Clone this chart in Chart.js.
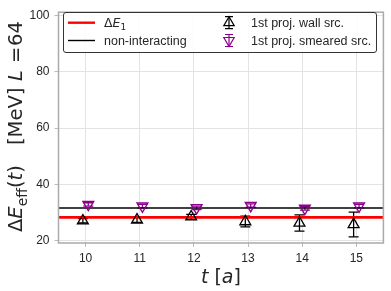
<!DOCTYPE html>
<html>
<head>
<meta charset="utf-8">
<script src="https://cdn.jsdelivr.net/npm/chart.js@4.4.0/dist/chart.umd.min.js"></script>
<style>
html,body{margin:0;padding:0;background:#fff;}
#wrap{width:391px;height:291px;position:relative;}
</style>
</head>
<body>
<div id="wrap"><canvas id="c" width="391" height="291"></canvas></div>
<script>
// ---- data ----
const tValues = [10, 11, 12, 13, 14, 15];
const wallValues = [27.1, 27.4, 28.5, 26.8, 26.3, 25.8];
const wallErrors = [0.8, 0.9, 0.9, 1.9, 2.9, 4.4];
const smearValues = [32.9, 32.3, 31.7, 32.5, 31.5, 32.3];
const smearErrors = [0.6, 0.6, 0.6, 0.6, 0.6, 0.6];
const deltaE1 = 28.3;
const nonInteracting = 31.6;
const xTicks = [10, 11, 12, 13, 14, 15];
const yTicks = [20, 40, 60, 80, 100];
const xRange = [9.5, 15.5];
const yRange = [19.2, 101.2];
const xOffset = 0.05;

const TEXT_FONT = "'Liberation Sans', Arial, sans-serif";
const MATH_FONT = "'DejaVu Sans', sans-serif";

const wallPts = tValues.map((t, i) => ({x: t - xOffset, y: wallValues[i], e: wallErrors[i]}));
const smearPts = tValues.map((t, i) => ({x: t + xOffset, y: smearValues[i], e: smearErrors[i]}));

const errorBarPlugin = {
  id: 'errorBars',
  beforeDatasetsDraw(chart) {
    const ctx = chart.ctx;
    const xs = chart.scales.x, ys = chart.scales.y;
    chart.data.datasets.forEach(ds => {
      if (!ds.errorBars) return;
      ctx.save();
      ctx.strokeStyle = ds.borderColor;
      ctx.lineWidth = 1.3;
      ds.data.forEach(p => {
        const px = xs.getPixelForValue(p.x);
        const y1 = ys.getPixelForValue(p.y - p.e);
        const y2 = ys.getPixelForValue(p.y + p.e);
        ctx.beginPath();
        ctx.moveTo(px, y1); ctx.lineTo(px, y2);
        ctx.moveTo(px - 5, y1); ctx.lineTo(px + 5, y1);
        ctx.moveTo(px - 5, y2); ctx.lineTo(px + 5, y2);
        ctx.stroke();
      });
      ctx.restore();
    });
  }
};

function drawRuns(ctx, runs, x, y) {
  let cx = x;
  runs.forEach(r => {
    ctx.font = r[1];
    ctx.fillText(r[0], cx, y + (r[2] || 0));
    cx += ctx.measureText(r[0]).width;
  });
  return cx;
}

const framePlugin = {
  id: 'frame',
  afterDraw(chart) {
    const ctx = chart.ctx;
    const a = chart.chartArea;
    ctx.save();
    ctx.strokeStyle = '#aaaaaa';
    ctx.lineWidth = 1.5;
    ctx.strokeRect(a.left, a.top, a.right - a.left, a.bottom - a.top);

    // legend box
    const lx = 63.5, ly = 12.5, lw = 313, lh = 40;
    ctx.fillStyle = 'rgba(255,255,255,0.85)';
    ctx.strokeStyle = '#333333';
    ctx.lineWidth = 1;
    ctx.beginPath();
    if (ctx.roundRect) ctx.roundRect(lx, ly, lw, lh, 2.5); else ctx.rect(lx, ly, lw, lh);
    ctx.fill(); ctx.stroke();

    const r1 = 22.7, r2 = 40.5;
    ctx.strokeStyle = '#ff0000'; ctx.lineWidth = 2.4;
    ctx.beginPath(); ctx.moveTo(68, r1); ctx.lineTo(95, r1); ctx.stroke();
    ctx.strokeStyle = '#000000'; ctx.lineWidth = 1.4;
    ctx.beginPath(); ctx.moveTo(68, r2); ctx.lineTo(95, r2); ctx.stroke();

    ctx.fillStyle = '#262626';
    ctx.textBaseline = 'alphabetic';
    ctx.textAlign = 'left';
    const b1 = r1 + 4.5, b2 = r2 + 4.5;
    drawRuns(ctx, [['Δ', '12.5px ' + MATH_FONT], ['E', 'italic 12.5px ' + MATH_FONT], ['1', '9px ' + MATH_FONT, 2.5]], 104, b1);
    ctx.font = '12.5px ' + TEXT_FONT;
    ctx.fillText('non-interacting', 104, b2);
    ctx.fillText('1st proj. wall src.', 251, b1);
    ctx.fillText('1st proj. smeared src.', 251, b2);

    drawMarker(ctx, 229, r1, '#000000', false);
    drawMarker(ctx, 229, r2, '#8b008b', true);

    // x title: t [a]
    ctx.fillStyle = '#262626';
    const xr = [['t', 'italic 19px ' + MATH_FONT], [' [', '19px ' + MATH_FONT], ['a', 'italic 19px ' + MATH_FONT], [']', '19px ' + MATH_FONT]];
    let total = 0;
    xr.forEach(p => { ctx.font = p[1]; total += ctx.measureText(p[0]).width; });
    drawRuns(ctx, xr, (a.left + a.right) / 2 - total / 2, 282.5);

    // y title rotated
    ctx.save();
    ctx.translate(22, 232);
    ctx.rotate(-Math.PI / 2);
    const M = '19.5px ' + MATH_FONT, MI = 'italic 19.5px ' + MATH_FONT;
    drawRuns(ctx, [['Δ', M], ['E', MI], ['eff', '14px ' + MATH_FONT, 4.5], ['(', M], ['t', MI], [')', M]], 0, 0);
    drawRuns(ctx, [['[MeV]', M]], 87, 0);
    drawRuns(ctx, [['L', MI]], 151, 0);
    drawRuns(ctx, [['=', M]], 169, 0);
    drawRuns(ctx, [['64', M]], 186, 0);
    ctx.restore();
    ctx.restore();
  }
};

function drawMarker(ctx, x, y, color, down) {
  ctx.save();
  ctx.strokeStyle = color; ctx.lineWidth = 1.2;
  ctx.beginPath();
  ctx.moveTo(x, y - 6); ctx.lineTo(x, y + 6);
  ctx.moveTo(x - 4, y - 6); ctx.lineTo(x + 4, y - 6);
  ctx.moveTo(x - 4, y + 6); ctx.lineTo(x + 4, y + 6);
  ctx.stroke();
  const r = 6;
  const s = down ? -1 : 1;
  ctx.beginPath();
  ctx.moveTo(x, y - s * r);
  ctx.lineTo(x - r * 0.866, y + s * r * 0.5);
  ctx.lineTo(x + r * 0.866, y + s * r * 0.5);
  ctx.closePath();
  ctx.stroke();
  ctx.restore();
}

new Chart(document.getElementById('c'), {
  type: 'scatter',
  data: {
    datasets: [
      {
        label: 'ΔE1', type: 'line',
        data: [{x: xRange[0], y: deltaE1}, {x: xRange[1], y: deltaE1}],
        borderColor: '#ff0000', borderWidth: 2.6, pointRadius: 0, order: 3
      },
      {
        label: 'non-interacting', type: 'line',
        data: [{x: xRange[0], y: nonInteracting}, {x: xRange[1], y: nonInteracting}],
        borderColor: '#000000', borderWidth: 1.5, pointRadius: 0, order: 4
      },
      {
        label: '1st proj. wall src.', data: wallPts, errorBars: true,
        borderColor: '#000000', backgroundColor: 'rgba(0,0,0,0)',
        pointStyle: 'triangle', pointRadius: 6.3, borderWidth: 1.3, order: 1
      },
      {
        label: '1st proj. smeared src.', data: smearPts, errorBars: true,
        borderColor: '#8b008b', backgroundColor: 'rgba(0,0,0,0)',
        pointStyle: 'triangle', rotation: 180, pointRadius: 6.3, borderWidth: 1.3, order: 2
      }
    ]
  },
  options: {
    responsive: false,
    animation: false,
    events: [],
    layout: {padding: {left: 0, right: 6, top: 5, bottom: 0}},
    plugins: {legend: {display: false}, tooltip: {enabled: false}},
    scales: {
      x: {
        type: 'linear', min: xRange[0], max: xRange[1],
        afterBuildTicks: s => { s.ticks = xTicks.map(v => ({value: v})); },
        afterFit: s => { s.height = 48; },
        grid: {color: '#e3e3e3', lineWidth: 1, tickLength: 4, tickColor: '#bbbbbb'},
        border: {display: false},
        ticks: {color: '#262626', font: {family: TEXT_FONT, size: 12}, padding: 4, maxRotation: 0,
                callback: v => String(v)}
      },
      y: {
        type: 'linear', min: yRange[0], max: yRange[1],
        afterBuildTicks: s => { s.ticks = yTicks.map(v => ({value: v})); },
        afterFit: s => { s.width = 58.5; },
        grid: {color: '#e3e3e3', lineWidth: 1, tickLength: 4, tickColor: '#bbbbbb'},
        border: {display: false},
        ticks: {color: '#262626', font: {family: TEXT_FONT, size: 12}, padding: 5,
                callback: v => String(v)}
      }
    }
  },
  plugins: [errorBarPlugin, framePlugin]
});
</script>
</body>
</html>
